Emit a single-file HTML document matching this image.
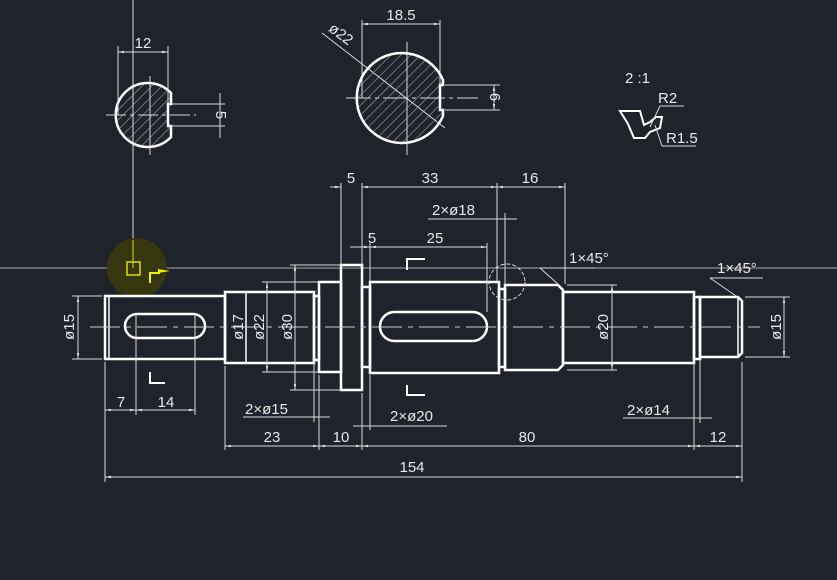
<!DOCTYPE html>
<html><head><style>body{margin:0;background:#1f242c}svg{display:block}text{font-family:"Liberation Sans",sans-serif;fill:#e8e8e8;font-size:15px}</style></head><body>
<svg width="837" height="580" viewBox="0 0 837 580">
<defs>
<pattern id="h" width="7" height="7" patternUnits="userSpaceOnUse" patternTransform="rotate(45)"><line x1="0" y1="0" x2="0" y2="7" stroke="#bbb" stroke-width="1"/></pattern>
<marker id="a" viewBox="0 0 10 10" refX="10" refY="5" markerWidth="6" markerHeight="6" orient="auto-start-reverse"><path d="M0,3L10,5L0,7z" fill="#ddd"/></marker>
</defs>
<rect width="837" height="580" fill="#1f242c"/>
<line x1="0" y1="268" x2="837" y2="268" stroke="#aaa" stroke-width="1"/>
<line x1="133" y1="0" x2="133" y2="268" stroke="#ddd" stroke-width="1"/>
<circle cx="137" cy="268" r="30" fill="#36360f"/>
<line x1="133" y1="240" x2="133" y2="268" stroke="#dd0" stroke-width="1"/>
<rect x="127" y="262" width="13" height="13" fill="none" stroke="#dd0" stroke-width="1.5"/>
<path d="M150,283V273H160" fill="none" stroke="#ee0" stroke-width="2"/><path d="M158,269L170,271L158,273z" fill="#ee0"/>

<g fill="none" stroke="#fff" stroke-width="2.5">
<rect x="105" y="296" width="120" height="63"/><line x1="109" y1="296" x2="109" y2="359" stroke-width="1.5"/>
<rect x="225" y="292" width="89" height="71"/><line x1="246" y1="292" x2="246" y2="363" stroke-width="1.5"/>
<rect x="314" y="296" width="5" height="64"/>
<rect x="319" y="282" width="22" height="90"/>
<rect x="341" y="265" width="21" height="125"/>
<rect x="362" y="287" width="8" height="80"/>
<rect x="370" y="282" width="129" height="91"/>
<rect x="499" y="289" width="6" height="78"/>
<path d="M505,285H558L563,290V365L558,370H505Z"/>
<rect x="563" y="292" width="131" height="71"/>
<rect x="694" y="297" width="6" height="62"/>
<path d="M700,297H738L742,301V353L738,357H700Z"/><line x1="738" y1="297" x2="738" y2="357" stroke-width="1.5"/>
<rect x="125" y="314" width="80" height="24" rx="12"/>
<rect x="380" y="312" width="107" height="29" rx="14.5"/>
</g>
<line x1="90" y1="327" x2="760" y2="327" stroke="#ccc" stroke-width="1" stroke-dasharray="30,6,5,6"/>

<g stroke="#d8d8d8" stroke-width="1" fill="none">
<line x1="105" y1="362" x2="105" y2="482"/><line x1="742" y1="362" x2="742" y2="482"/>
<line x1="105" y1="477" x2="742" y2="477" marker-start="url(#a)" marker-end="url(#a)"/>
<line x1="225" y1="366" x2="225" y2="450"/><line x1="319" y1="375" x2="319" y2="450"/><line x1="362" y1="393" x2="362" y2="450"/><line x1="694" y1="363" x2="694" y2="450"/>
<line x1="225" y1="446" x2="319" y2="446" marker-start="url(#a)" marker-end="url(#a)"/>
<line x1="319" y1="446" x2="362" y2="446" marker-start="url(#a)" marker-end="url(#a)"/>
<line x1="362" y1="446" x2="694" y2="446" marker-start="url(#a)" marker-end="url(#a)"/>
<line x1="694" y1="446" x2="742" y2="446" marker-start="url(#a)" marker-end="url(#a)"/>
<line x1="136" y1="314" x2="136" y2="415"/><line x1="195" y1="314" x2="195" y2="415"/>
<line x1="105" y1="410" x2="136" y2="410" marker-start="url(#a)" marker-end="url(#a)"/>
<line x1="136" y1="410" x2="195" y2="410" marker-start="url(#a)" marker-end="url(#a)"/>
<line x1="243" y1="417" x2="330" y2="417"/><line x1="314" y1="362" x2="314" y2="422"/>
<line x1="353" y1="426" x2="447" y2="426"/><line x1="370" y1="375" x2="370" y2="430"/>
<line x1="623" y1="418" x2="712" y2="418"/><line x1="700" y1="360" x2="700" y2="423"/>
<line x1="341" y1="183" x2="341" y2="264"/><line x1="362" y1="183" x2="362" y2="264"/><line x1="497" y1="183" x2="497" y2="282"/><line x1="565" y1="183" x2="565" y2="284"/>
<line x1="330" y1="187" x2="341" y2="187" marker-end="url(#a)"/><line x1="362" y1="187" x2="497" y2="187" marker-start="url(#a)" marker-end="url(#a)"/>
<line x1="497" y1="187" x2="565" y2="187" marker-start="url(#a)" marker-end="url(#a)"/>
<line x1="428" y1="219" x2="517" y2="219"/><line x1="505" y1="213" x2="505" y2="284"/>
<line x1="350" y1="247" x2="370" y2="247" marker-end="url(#a)"/><line x1="370" y1="247" x2="487" y2="247" marker-start="url(#a)" marker-end="url(#a)"/>
<line x1="370" y1="243" x2="370" y2="281"/><line x1="487" y1="243" x2="487" y2="312"/>
<line x1="72" y1="296" x2="102" y2="296"/><line x1="72" y1="359" x2="102" y2="359"/>
<line x1="78" y1="296" x2="78" y2="359" marker-start="url(#a)" marker-end="url(#a)"/>
<line x1="262" y1="282" x2="318" y2="282"/><line x1="262" y1="372" x2="318" y2="372"/>
<line x1="267" y1="282" x2="267" y2="372" marker-start="url(#a)" marker-end="url(#a)"/>
<line x1="290" y1="265" x2="340" y2="265"/><line x1="290" y1="390" x2="340" y2="390"/>
<line x1="295" y1="265" x2="295" y2="390" marker-start="url(#a)" marker-end="url(#a)"/>
<line x1="567" y1="285" x2="617" y2="285"/><line x1="567" y1="370" x2="617" y2="370"/>
<line x1="612" y1="285" x2="612" y2="370" marker-start="url(#a)" marker-end="url(#a)"/>
<line x1="745" y1="297" x2="790" y2="297"/><line x1="745" y1="357" x2="790" y2="357"/>
<line x1="784" y1="297" x2="784" y2="357" marker-start="url(#a)" marker-end="url(#a)"/>
<line x1="540" y1="268" x2="595" y2="268"/><line x1="540" y1="268" x2="559" y2="285"/>
<line x1="710" y1="278" x2="763" y2="278"/><line x1="710" y1="278" x2="736" y2="296"/>
<circle cx="507" cy="282" r="18" stroke-dasharray="4,2"/>
</g>
<g stroke="#fff" stroke-width="2" fill="none">
<path d="M150,372V383H165"/><path d="M407,270V259H425"/><path d="M407,385V395H425"/>
</g>

<clipPath id="c1"><path d="M171,93A32,32 0 1 0 171,137V126H168V104H171Z"/></clipPath>
<rect x="110" y="80" width="70" height="70" fill="url(#h)" clip-path="url(#c1)"/>
<path d="M171,93A32,32 0 1 0 171,137V126H168V104H171Z" fill="none" stroke="#fff" stroke-width="2.5"/>
<g stroke="#d8d8d8" stroke-width="1" fill="none">
<line x1="106" y1="115" x2="196" y2="115" stroke-dasharray="20,4,4,4"/><line x1="150" y1="76" x2="150" y2="155"/>
<line x1="118" y1="46" x2="118" y2="115"/><line x1="168" y1="46" x2="168" y2="104"/>
<line x1="118" y1="52" x2="168" y2="52" marker-start="url(#a)" marker-end="url(#a)"/>
<line x1="172" y1="104" x2="225" y2="104"/><line x1="172" y1="126" x2="225" y2="126"/>
<line x1="220" y1="93" x2="220" y2="138"/>
<line x1="362" y1="20" x2="362" y2="98"/><line x1="440" y1="20" x2="440" y2="85"/>
<line x1="362" y1="24" x2="440" y2="24" marker-start="url(#a)" marker-end="url(#a)"/>
<line x1="445" y1="85" x2="500" y2="85"/><line x1="445" y1="110" x2="500" y2="110"/>
<line x1="494" y1="85" x2="494" y2="110" marker-start="url(#a)" marker-end="url(#a)"/>
<line x1="322" y1="33" x2="445" y2="128"/>
<line x1="346" y1="98" x2="478" y2="98" stroke-dasharray="25,4,4,4"/><line x1="407" y1="42" x2="407" y2="155"/>
</g>
<clipPath id="c2"><path d="M443,85A45,45 0 1 0 443,111V110H440V85Z"/></clipPath>
<rect x="355" y="50" width="100" height="100" fill="url(#h)" clip-path="url(#c2)"/>
<path d="M443,80A45,45 0 1 0 443,116V110H440V85H443Z" fill="none" stroke="#fff" stroke-width="2.5"/>
<path d="M620,111H640L644,125L650,122L656,117H662L660,128L650,132L645,138H634L628,124Z" fill="none" stroke="#fff" stroke-width="2"/>
<g stroke="#d8d8d8" stroke-width="1"><line x1="650" y1="127" x2="660" y2="106"/><line x1="660" y1="106" x2="684" y2="106"/><line x1="655" y1="125" x2="662" y2="146"/><line x1="662" y1="146" x2="696" y2="146"/></g>

<g>
<text x="412" y="472" text-anchor="middle">154</text>
<text x="272" y="442" text-anchor="middle">23</text>
<text x="341" y="442" text-anchor="middle">10</text>
<text x="527" y="442" text-anchor="middle">80</text>
<text x="718" y="442" text-anchor="middle">12</text>
<text x="121" y="407" text-anchor="middle">7</text>
<text x="166" y="407" text-anchor="middle">14</text>
<text x="245" y="414">2×ø15</text>
<text x="390" y="421">2×ø20</text>
<text x="627" y="415">2×ø14</text>
<text x="351" y="183" text-anchor="middle">5</text>
<text x="430" y="183" text-anchor="middle">33</text>
<text x="530" y="183" text-anchor="middle">16</text>
<text x="432" y="215">2×ø18</text>
<text x="372" y="243" text-anchor="middle">5</text>
<text x="435" y="243" text-anchor="middle">25</text>
<text x="569" y="263" font-size="14">1×45°</text>
<text x="717" y="273" font-size="14">1×45°</text>
<text transform="translate(74,327) rotate(-90)" text-anchor="middle">ø15</text>
<text transform="translate(243,327) rotate(-90)" text-anchor="middle">ø17</text>
<text transform="translate(264,327) rotate(-90)" text-anchor="middle">ø22</text>
<text transform="translate(292,327) rotate(-90)" text-anchor="middle">ø30</text>
<text transform="translate(608,327) rotate(-90)" text-anchor="middle">ø20</text>
<text transform="translate(781,327) rotate(-90)" text-anchor="middle">ø15</text>
<text x="143" y="48" text-anchor="middle">12</text>
<text transform="translate(216,115) rotate(90)" text-anchor="middle">5</text>
<text x="401" y="20" text-anchor="middle">18.5</text>
<text transform="translate(490,97) rotate(90)" text-anchor="middle">6</text>
<text transform="translate(338,38) rotate(37)" text-anchor="middle">ø22</text>
<text x="625" y="83">2 :1</text>
<text x="658" y="103" font-size="14">R2</text>
<text x="666" y="143" font-size="14">R1.5</text>
</g>
</svg>
</body></html>
